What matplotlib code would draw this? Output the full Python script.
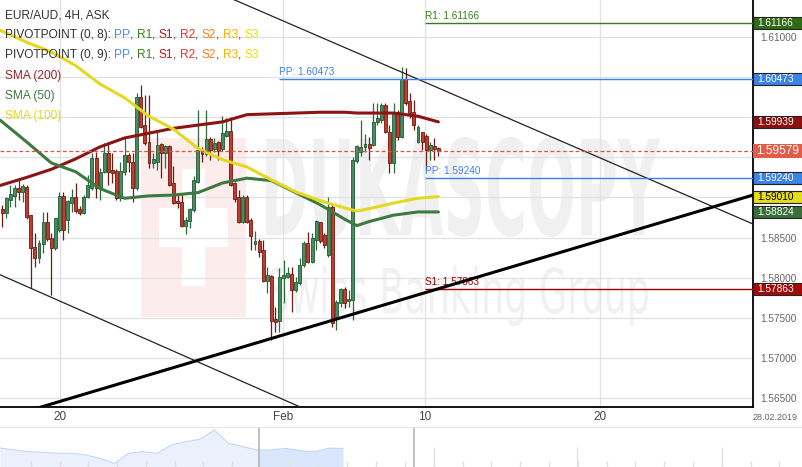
import numpy as np
import matplotlib
matplotlib.use("Agg")
import matplotlib.pyplot as plt
from matplotlib.patches import Rectangle, PathPatch
from matplotlib.path import Path
from matplotlib.textpath import TextPath
from matplotlib.font_manager import FontProperties
from matplotlib.transforms import Affine2D, blended_transform_factory

plt.rcParams['font.family'] = ['Liberation Sans', 'DejaVu Sans']

# EUR/AUD 4H candles (bar index 0..107)
opens = [1.5886, 1.5881, 1.5897, 1.5902, 1.5912, 1.5907, 1.5913, 1.5878, 1.5838, 1.5825,
         1.5842, 1.5870, 1.5850, 1.5837, 1.5860, 1.5902, 1.5872, 1.5893, 1.5901, 1.5886,
         1.5881, 1.5901, 1.5912, 1.5949, 1.5912, 1.5932, 1.5955, 1.5934, 1.5933, 1.5899,
         1.5932, 1.5953, 1.5944, 1.5912, 1.6025, 1.5990, 1.5969, 1.5943, 1.5944, 1.5967,
         1.5955, 1.5964, 1.5918, 1.5896, 1.5894, 1.5865, 1.5871, 1.5884, 1.5919, 1.5959,
         1.5954, 1.5973, 1.5960, 1.5969, 1.5960, 1.5977, 1.5983, 1.5918, 1.5901, 1.5870,
         1.5901, 1.5872, 1.5842, 1.5846, 1.5835, 1.5796, 1.5802, 1.5749, 1.5746, 1.5800,
         1.5801, 1.5805, 1.5785, 1.5794, 1.5816, 1.5843, 1.5820, 1.5847, 1.5869, 1.5853,
         1.5828, 1.5888, 1.5750, 1.5769, 1.5786, 1.5771, 1.5772, 1.5945, 1.5957, 1.5963,
         1.5967, 1.5965, 1.5994, 1.5996, 1.6015, 1.5981, 1.5943, 1.6006, 1.5975, 1.6047,
         1.6020, 1.6006, 1.5969, 1.5981, 1.5977, 1.5959, 1.5964, 1.5962]
highs = [1.5891, 1.5901, 1.5916, 1.5916, 1.5922, 1.5917, 1.5916, 1.5878, 1.5856, 1.5847,
         1.5882, 1.5882, 1.5856, 1.5875, 1.5907, 1.5907, 1.5897, 1.5911, 1.5918, 1.5889,
         1.5903, 1.5928, 1.5955, 1.5957, 1.5937, 1.5968, 1.5969, 1.5955, 1.5935, 1.5944,
         1.5975, 1.5955, 1.5955, 1.6030, 1.6040, 1.6027, 1.6027, 1.5955, 1.5984, 1.5968,
         1.5965, 1.5965, 1.5939, 1.5906, 1.5906, 1.5876, 1.5887, 1.5927, 1.6009, 1.5963,
         1.6009, 1.5975, 1.5974, 1.5970, 1.6001, 1.5999, 1.6000, 1.5919, 1.5909, 1.5903,
         1.5903, 1.5874, 1.5858, 1.5848, 1.5847, 1.5813, 1.5804, 1.5764, 1.5812, 1.5822,
         1.5813, 1.5813, 1.5801, 1.5825, 1.5846, 1.5857, 1.5856, 1.5872, 1.5870, 1.5856,
         1.5901, 1.5891, 1.5772, 1.5787, 1.5789, 1.5785, 1.5950, 1.5965, 1.5996, 1.5979,
         1.5975, 1.6018, 1.6018, 1.6018, 1.6018, 1.5990, 1.6018, 1.6009, 1.6062, 1.6061,
         1.6030, 1.6021, 1.5990, 1.5982, 1.5979, 1.5969, 1.5974, 1.5963]
lows = [1.5863, 1.5874, 1.5888, 1.5888, 1.5897, 1.5894, 1.5873, 1.5787, 1.5813, 1.5818,
        1.5831, 1.5846, 1.5779, 1.5835, 1.5857, 1.5847, 1.5856, 1.5882, 1.5881, 1.5878,
        1.5879, 1.5899, 1.5909, 1.5899, 1.5897, 1.5930, 1.5916, 1.5918, 1.5897, 1.5896,
        1.5928, 1.5932, 1.5894, 1.5909, 1.5986, 1.5965, 1.5937, 1.5937, 1.5934, 1.5924,
        1.5937, 1.5914, 1.5892, 1.5887, 1.5863, 1.5855, 1.5862, 1.5882, 1.5918, 1.5944,
        1.5952, 1.5947, 1.5957, 1.5947, 1.5958, 1.5975, 1.5914, 1.5894, 1.5868, 1.5868,
        1.5868, 1.5835, 1.5835, 1.5826, 1.5795, 1.5781, 1.5723, 1.5733, 1.5733, 1.5769,
        1.5800, 1.5758, 1.5782, 1.5791, 1.5813, 1.5818, 1.5818, 1.5835, 1.5843, 1.5837,
        1.5826, 1.5739, 1.5735, 1.5764, 1.5763, 1.5764, 1.5748, 1.5943, 1.5951, 1.5957,
        1.5947, 1.5964, 1.5990, 1.5992, 1.5980, 1.5930, 1.5930, 1.5971, 1.5974, 1.6015,
        1.5999, 1.5984, 1.5968, 1.5959, 1.5934, 1.5947, 1.5947, 1.5951]
closes = [1.5881, 1.5899, 1.5904, 1.5912, 1.5907, 1.5914, 1.5876, 1.5837, 1.5825, 1.5843,
          1.5870, 1.5848, 1.5837, 1.5874, 1.5902, 1.5860, 1.5896, 1.5901, 1.5883, 1.5881,
          1.5901, 1.5916, 1.5949, 1.5912, 1.5932, 1.5955, 1.5932, 1.5930, 1.5899, 1.5933,
          1.5953, 1.5944, 1.5912, 1.6025, 1.5988, 1.5968, 1.5943, 1.5948, 1.5965, 1.5955,
          1.5964, 1.5916, 1.5893, 1.5893, 1.5865, 1.5872, 1.5886, 1.5922, 1.5959, 1.5954,
          1.5973, 1.5959, 1.5968, 1.5958, 1.5980, 1.5983, 1.5916, 1.5898, 1.5870, 1.5901,
          1.5870, 1.5852, 1.5846, 1.5832, 1.5796, 1.5804, 1.5746, 1.5745, 1.5801, 1.5804,
          1.5806, 1.5785, 1.5795, 1.5816, 1.5843, 1.5820, 1.5850, 1.5871, 1.5846, 1.5841,
          1.5888, 1.5744, 1.5770, 1.5786, 1.5769, 1.5774, 1.5947, 1.5964, 1.5963, 1.5967,
          1.5962, 1.5994, 1.5999, 1.6015, 1.5981, 1.5943, 1.6006, 1.5975, 1.6047, 1.6018,
          1.6005, 1.5990, 1.5988, 1.5969, 1.5959, 1.5965, 1.5960, 1.5958]

# moving averages, read at these bar indices
sma_idx = [-0.5, 6, 12, 18, 24, 30, 36, 42, 48, 54, 60, 66, 72, 78, 84, 87, 90, 96, 102, 107]
sma200 = [1.5915, 1.5925, 1.5935, 1.5948, 1.5963, 1.5974, 1.5980, 1.5986, 1.5990, 1.5994,
          1.6003, 1.6004, 1.6005, 1.6006, 1.6006, 1.6005, 1.6005, 1.6005, 1.6001, 1.5994]
sma50 = [1.5996, 1.5969, 1.5943, 1.5932, 1.5911, 1.5899, 1.5902, 1.5903, 1.5906, 1.5918,
         1.5924, 1.5921, 1.5906, 1.5891, 1.5873, 1.5865, 1.5870, 1.5878, 1.5882, 1.5882]
sma100 = [1.6108, 1.6093, 1.6081, 1.6064, 1.6041, 1.6024, 1.6001, 1.5985, 1.5961, 1.5947,
          1.5938, 1.5922, 1.5907, 1.5896, 1.5887, 1.5883, 1.5886, 1.5893, 1.5899, 1.5901]

# trend lines (bar index, price)
upper_x, upper_y = [50, 184.2], [1.6161, 1.5867]
lower_x, lower_y = [-0.6, 80], [1.5804, 1.5624]
support_x, support_y = [0, 184.2], [1.5625, 1.5903]

# pivot levels: (label, value, start bar, colour)
pivots = [("PP", 1.60473, 67.9, "#3b82f0"),
          ("R1", 1.61166, 103.7, "#3a7d1e"),
          ("PP", 1.59240, 103.7, "#3b82f0"),
          ("S1", 1.57863, 103.7, "#a00000")]
last_price = 1.59579

tick_pos = [14.2, 68.9, 103.7, 146.7]
tick_lab = ["20", "Feb", "10", "20"]
price_ticks = [1.565, 1.570, 1.575, 1.580, 1.585, 1.590, 1.595, 1.600, 1.605, 1.610]
hidden_ticks = [1.590, 1.595, 1.600, 1.605]   # covered by value boxes

# navigator history (relative level)
nav_level = [19, 17, 15.3, 14.7, 13.7, 13.7, 12, 8.7, 3.7, 13.7, 15.3, 13.7, 22,
             25.3, 27.7, 37, 23.7, 20.3, 17, 17, 18.7, 16.3, 15.3, 18.7, 18.7]

W, H = 803, 467
fig = plt.figure(figsize=(W / 100, H / 100), dpi=100)
ax = fig.add_axes([0, 60 / H, 753 / W, 407 / H])
ax.set_xlim(-0.564, 184.2)
ax.set_ylim(1.56394, 1.61456)
ax.patch.set_alpha(0)

px = Affine2D().scale(1 / W, 1 / H) + fig.transFigure


def pix_rect(x0, y0, x1, y1, color):
    r = Rectangle((x0, H - y1), x1 - x0, y1 - y0, transform=px, color=color, lw=0, zorder=0.2)
    ax.add_patch(r)


def fit_text(s, x0, y0, x1, y1, color, weight):
    fp = FontProperties(family='DejaVu Sans', weight=weight)
    tp = TextPath((0, 0), s, size=100, prop=fp)
    keep = tp.codes != Path.CLOSEPOLY
    v = tp.vertices[keep]
    vx0, vy0 = v.min(axis=0)
    vx1, vy1 = v.max(axis=0)
    tr = Affine2D().translate(-vx0, -vy0).scale((x1 - x0) / (vx1 - vx0), (y1 - y0) / (vy1 - vy0)) \
        .translate(x0, H - y1) + px
    ax.add_patch(PathPatch(tp, transform=tr, color=color, lw=0, zorder=0.2))


# watermark
pix_rect(141, 138, 246, 317, "#fcecec")
pix_rect(182, 169, 205, 286, "white")
pix_rect(159, 208, 228, 247, "white")
fit_text("DUKASCOPY", 266, 137, 660, 237, "#f0f0f0", "bold")
fit_text("Swiss Banking Group", 269, 266, 648, 326, "#f1f1f1", "normal")

# grid
for p in price_ticks:
    ax.axhline(p, color="#e3e3e3", lw=1, zorder=0.5)
for t in tick_pos:
    ax.axvline(t, color="#e3e3e3", lw=1, zorder=0.5)

# candles
idx = np.arange(len(closes))
o = np.array(opens)
c = np.array(closes)
up = c >= o
body_lo = np.minimum(o, c)
body_h = np.maximum(np.abs(c - o), 0.00004)
wick_col = np.where(up, "#2b6a3c", "#6b1b14")
ax.vlines(idx, lows, highs, colors=wick_col, lw=0.9, zorder=2)
ax.bar(idx[up], body_h[up], bottom=body_lo[up], width=0.72, color="#4a8c5f",
       edgecolor="#1f5a33", lw=0.6, zorder=3)
ax.bar(idx[~up], body_h[~up], bottom=body_lo[~up], width=0.72, color="#c23b2c",
       edgecolor="#6d1a12", lw=0.6, zorder=3)

# moving averages
ax.plot(sma_idx, sma200, color="#8b1414", lw=2.2, zorder=4, solid_capstyle="round")
ax.plot(sma_idx, sma50, color="#3d7a42", lw=2.2, zorder=4, solid_capstyle="round")
ax.plot(sma_idx, sma100, color="#e4d820", lw=2.2, zorder=4, solid_capstyle="round")

# trend lines
ax.plot(upper_x, upper_y, color="#222222", lw=0.9, zorder=4)
ax.plot(lower_x, lower_y, color="#222222", lw=0.9, zorder=4)
ax.plot(support_x, support_y, color="black", lw=2.2, zorder=5)

# pivots
for name, val, start, col in pivots:
    ax.hlines(val, start, 184.2, color=col, lw=1, zorder=4)
    ax.annotate(f"{name}: {val:.5f}", xy=(start, val), xytext=(0, 1.5), textcoords="offset points",
                color=col, fontsize=7.2, ha="left", va="bottom", zorder=4)

ax.axhline(last_price, color="#e0533f", lw=0.9, ls=(0, (3, 2)), zorder=4.5)

# axes styling
for s in ["top", "left"]:
    ax.spines[s].set_visible(False)
for s in ["right", "bottom"]:
    ax.spines[s].set_color("black")
    ax.spines[s].set_linewidth(1.3)
ax.yaxis.tick_right()
ax.set_yticks(price_ticks)
ax.set_yticklabels(["" if p in hidden_ticks else f"{p:.5f}" for p in price_ticks])
ax.tick_params(axis="y", length=0, pad=5, labelsize=7.2, labelcolor="#666666")
ax.set_xticks(tick_pos)
ax.set_xticklabels(tick_lab)
ax.tick_params(axis="x", length=0, pad=3, labelsize=8.5, labelcolor="#444444")
fig.text(775 / W, 1 - 418 / H, "28.02.2019", fontsize=6.5, color="#666666", ha="center", va="center")

# right-hand value boxes
bt = blended_transform_factory(ax.transAxes, ax.transData)
box_w = 50 / 753
boxes = [(1.61166, "#2e6b14", "white"), (1.60473, "#3c83e8", "white"),
         (1.59939, "#8b1010", "white"), (1.59240, "#3c83e8", "white"),
         (1.59010, "#e6dc1e", "black"), (1.58824, "#3a6e3a", "white"),
         (1.57863, "#a10a0a", "white")]
bh = 12 / 8040
for val, fc, tc in boxes:
    ax.add_patch(Rectangle((1.0, val - bh / 2), box_w, bh, transform=bt, facecolor=fc,
                           edgecolor="#222222", lw=0.8, clip_on=False, zorder=6))
    ax.text(1.0 + 4 / 753, val, f"{val:.5f}", transform=bt, color=tc, fontsize=7.3,
            va="center", ha="left", clip_on=False, zorder=7)
bh2 = 14 / 8040
ax.add_patch(Rectangle((1.0, last_price - bh2 / 2), box_w, bh2, transform=bt, facecolor="#e25c48",
                       edgecolor="none", clip_on=False, zorder=6))
ax.text(1.0 + 3 / 753, last_price, f"{last_price:.5f}", transform=bt, color="white", fontsize=8.6,
        va="center", ha="left", clip_on=False, zorder=7)

# legend in top-left
dark = "#333333"
pv = [("PP", "#4a8ff0"), ("R1", "#3a7d24"), ("S1", "#b71c1c"), ("R2", "#ef2f2f"),
      ("S2", "#f5832a"), ("R3", "#f5b400"), ("S3", "#f0e000")]
fs = 8.6
sp = 0.278 * fs


def line_of(y, parts):
    prev = fig.text(5 / W, 1 - y / H, parts[0][0], color=parts[0][1], fontsize=fs,
                    va="center", ha="left")
    for s, col, gap in parts[1:]:
        prev = ax.annotate(s, xy=(1, 0), xycoords=prev, xytext=(gap * sp, 0),
                           textcoords="offset points", va="bottom", ha="left", color=col,
                           fontsize=fs, annotation_clip=False, zorder=8)


fig.text(5 / W, 1 - 15 / H, "EUR/AUD, 4H, ASK", color=dark, fontsize=fs, va="center", ha="left")
for row, y in [("8", 35), ("9", 55)]:
    seq = [(f"PIVOTPOINT (0, {row}):", dark, 0)]
    for k, (nm, col) in enumerate(pv):
        seq.append((nm, col, 1))
        if k < len(pv) - 1:
            seq.append((",", dark, 0))
    line_of(y, seq)
fig.text(5 / W, 1 - 76 / H, "SMA (200)", color="#9b2525", fontsize=fs, va="center", ha="left")
fig.text(5 / W, 1 - 96 / H, "SMA (50)", color="#3d7a42", fontsize=fs, va="center", ha="left")
fig.text(5 / W, 1 - 116 / H, "SMA (100)", color="#e4d820", fontsize=fs, va="center", ha="left")

# navigator strip
nav = fig.add_axes([0, 0, 1, 40 / H])
nx = np.arange(len(nav_level))
nav.set_xlim(0, W / 14.29)
nav.set_ylim(0, 40)
nav.axis("off")
for t in np.arange(2.15, 56, 2.015):
    nav.vlines(t, 0, 6, color="#e2e2e2", lw=1)
for t in [30.4, 40.4, 50.5]:
    nav.vlines(t, 0, 20, color="#e2e2e2", lw=1)
nav.fill_between(nx, 0, nav_level, color="#eaf1fd", lw=0)
hi = nx >= 18
nav.fill_between(np.r_[18.1, nx[hi]], 0, np.r_[17, np.array(nav_level)[hi]], color="#d9e6fb", lw=0)
nav.plot(nx, nav_level, color="#c3d6f5", lw=0.8)
nav.vlines([18.1, 29.0], 0, 40, color="#b5b5b5", lw=1.2)
nav.axhline(40, color="#e6e6e6", lw=1.5)

fig.savefig("out.png", dpi=100)
